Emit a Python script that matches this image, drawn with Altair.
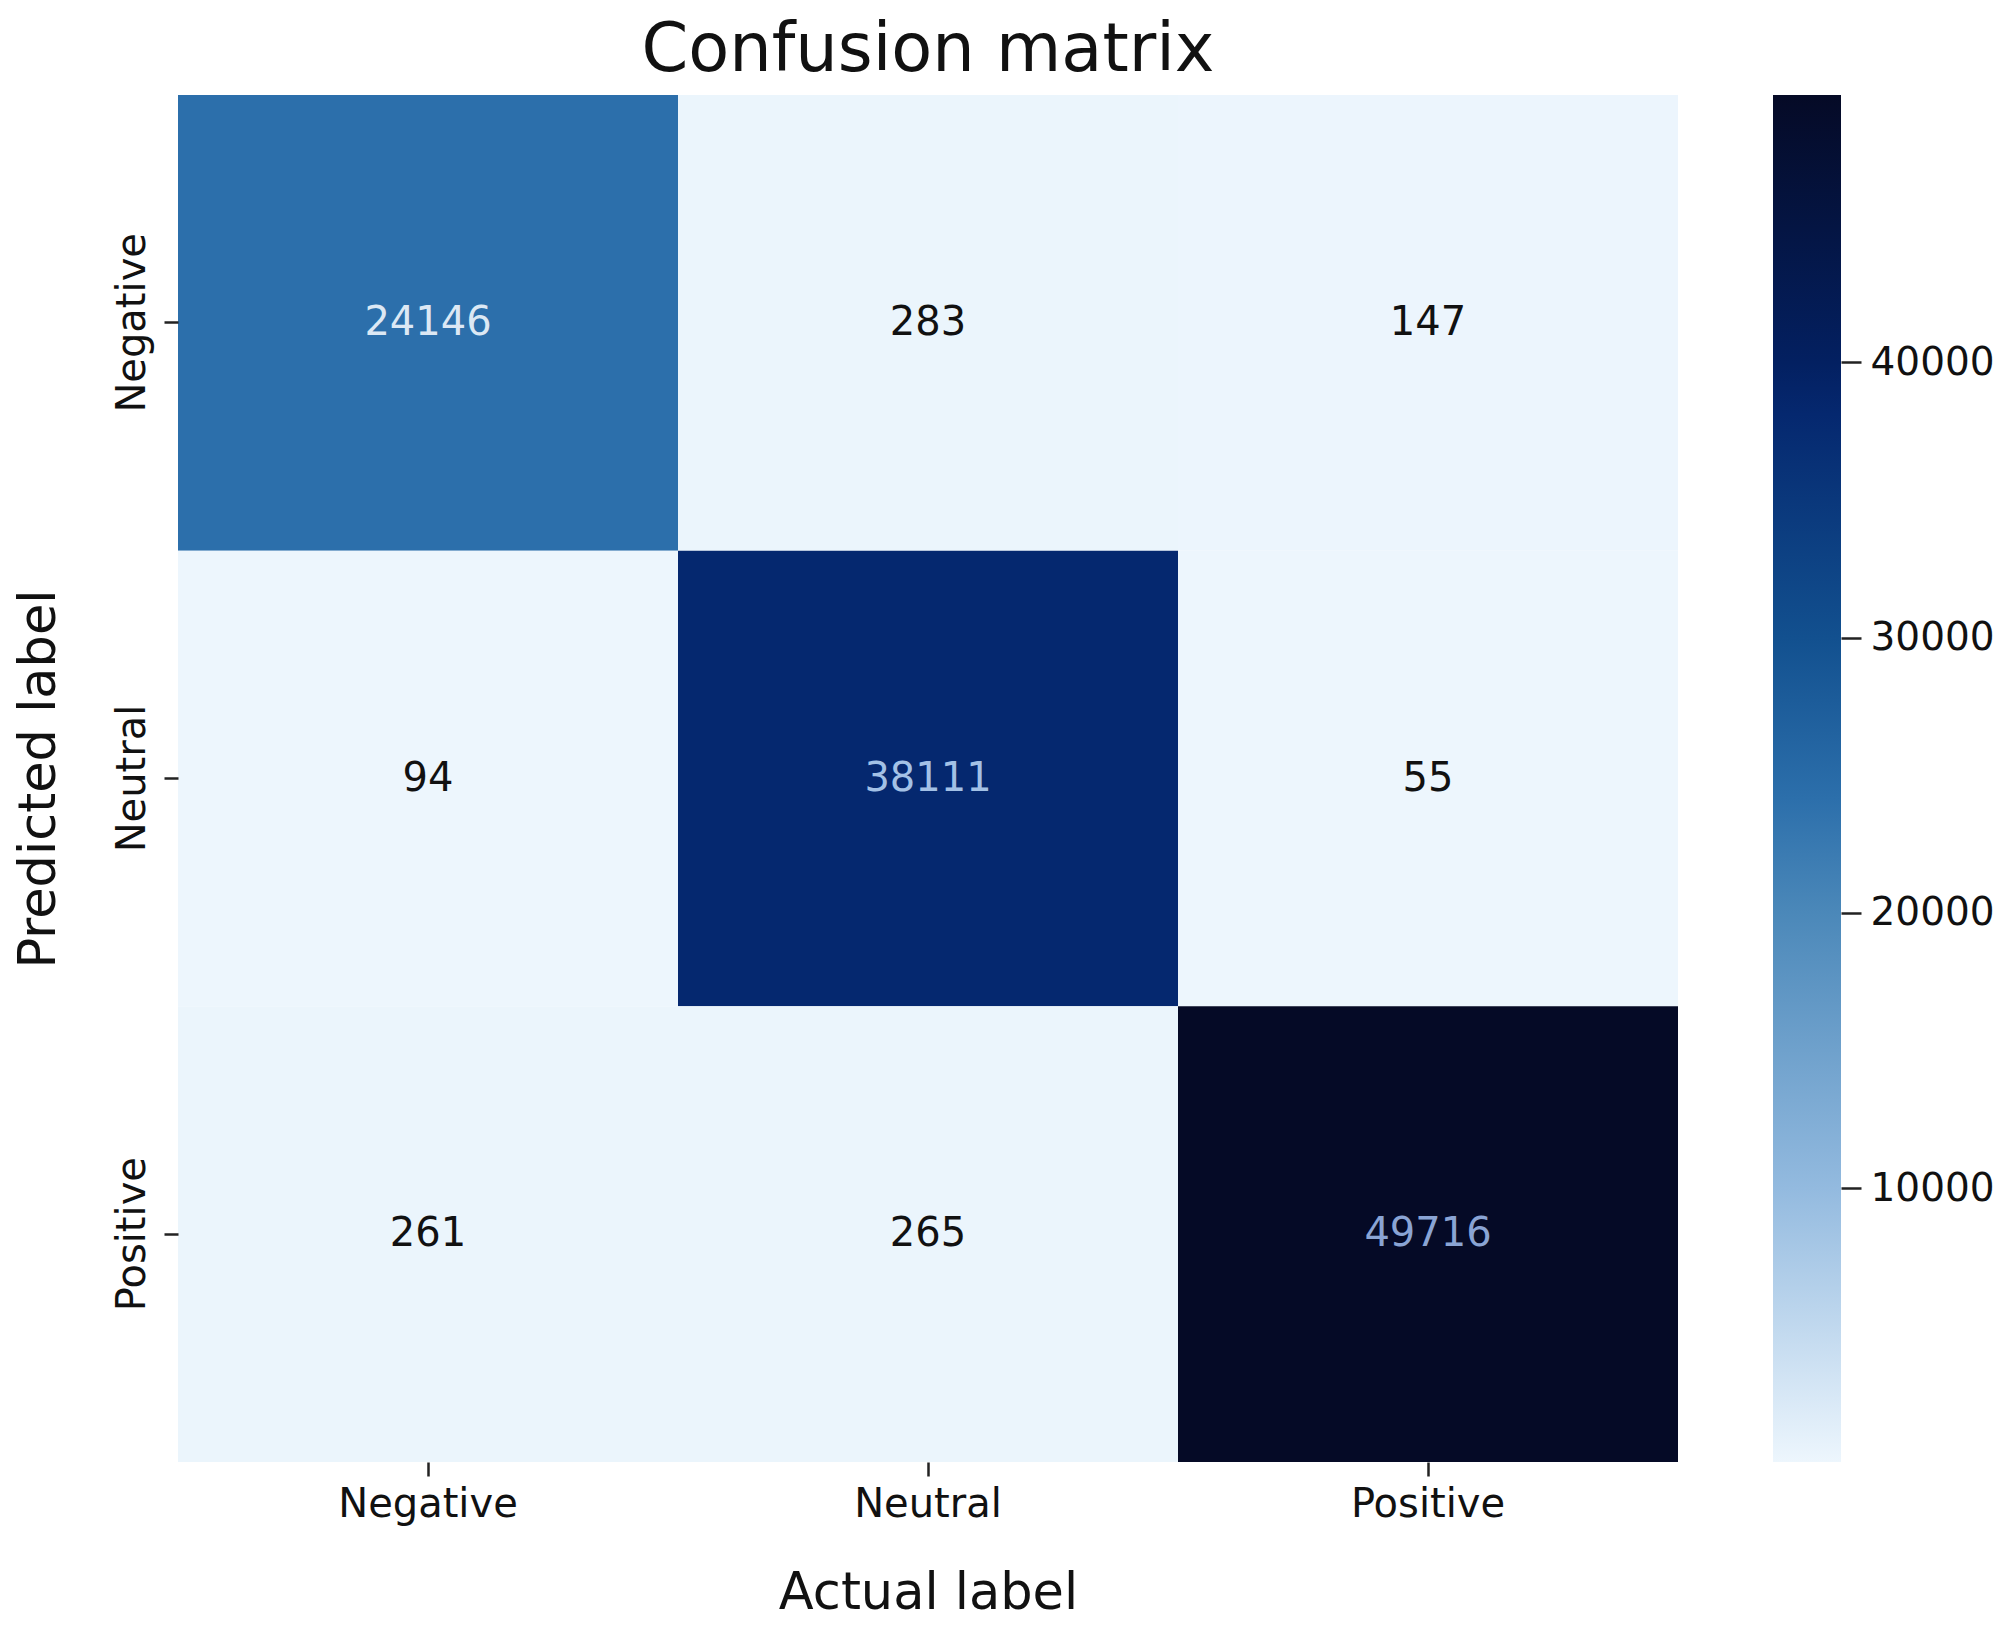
import altair as alt
import pandas as pd

# ---- data ----
classes = ["Negative", "Neutral", "Positive"]
predicted_rows = ["Negative", "Neutral", "Positive"]
row_negative = [24146, 283, 147]
row_neutral = [94, 38111, 55]
row_positive = [261, 265, 49716]

cbar_ticks = [10000, 20000, 30000, 40000]
color_anchor_values = [55, 10000, 20000, 24146, 30000, 38111, 40000, 49716]
color_anchor_colors = ["#edf6fd", "#93badf", "#4b88b9", "#2c6fab", "#12508f",
                       "#05286f", "#032061", "#050a26"]

rows = []
for pred, vals in zip(predicted_rows, [row_negative, row_neutral, row_positive]):
    for act, v in zip(classes, vals):
        rows.append({"Actual": act, "Predicted": pred, "value": v})
df = pd.DataFrame(rows)

vmin = min(color_anchor_values)
vmax = max(color_anchor_values)

FONT = "DejaVu Sans"

color_scale = alt.Scale(domain=color_anchor_values, range=color_anchor_colors,
                        interpolate="rgb")

base = alt.Chart(df)

heat = base.mark_rect(strokeWidth=0).encode(
    x=alt.X("Actual:N", sort=classes,
            scale=alt.Scale(paddingInner=0, paddingOuter=0),
            axis=alt.Axis(title="Actual label", labelAngle=0, labelFontSize=40,
                          titleFontSize=51, titleFontWeight="normal",
                          labelPadding=8, titlePadding=44, tickSize=14,
                          tickWidth=2.5, tickColor="#222", domain=False,
                          labelFont=FONT, titleFont=FONT, labelColor="#111",
                          titleColor="#111")),
    y=alt.Y("Predicted:N", sort=predicted_rows,
            scale=alt.Scale(paddingInner=0, paddingOuter=0),
            axis=alt.Axis(title="Predicted label", labelAngle=270,
                          labelAlign="center", labelBaseline="bottom",
                          labelFontSize=40, titleFontSize=51,
                          titleFontWeight="normal", labelPadding=12,
                          titlePadding=47, tickSize=14, tickWidth=2.5,
                          tickColor="#222", domain=False, labelFont=FONT,
                          titleFont=FONT, labelColor="#111", titleColor="#111")),
    color=alt.Color("value:Q", scale=color_scale, legend=None),
)

text = base.mark_text(fontSize=40, font=FONT).encode(
    x=alt.X("Actual:N", sort=classes),
    y=alt.Y("Predicted:N", sort=predicted_rows),
    text=alt.Text("value:Q", format="d"),
    color=alt.when(alt.datum.value > 45000).then(alt.value("#8aa4d4"))
    .when(alt.datum.value > 30000).then(alt.value("#a3c1e6"))
    .when(alt.datum.value > 20000).then(alt.value("#dce8f4"))
    .otherwise(alt.value("#111111")),
)

heatmap = (heat + text).properties(
    width=1500, height=1367,
    title=alt.TitleParams("Confusion matrix", fontSize=67, font=FONT,
                          fontWeight="normal", anchor="middle", offset=10,
                          color="#111"),
)

gradient = alt.LinearGradient(
    gradient="linear",
    stops=[alt.GradientStop(offset=(v - vmin) / (vmax - vmin), color=c)
           for v, c in zip(color_anchor_values, color_anchor_colors)],
    x1=0, x2=0, y1=1, y2=0,
)

cbar_df = pd.DataFrame({"lo": [vmin], "hi": [vmax]})
cbar = alt.Chart(cbar_df).mark_rect(color=gradient, strokeWidth=0).encode(
    y=alt.Y("lo:Q", scale=alt.Scale(domain=[vmin, vmax], nice=False, zero=False),
            axis=alt.Axis(orient="right", values=cbar_ticks, title=None,
                          labelFontSize=39, labelFont=FONT, labelColor="#111",
                          tickSize=20, tickWidth=2.5, tickColor="#222",
                          domain=False, grid=False, labelPadding=9,
                          format="d")),
    y2="hi:Q",
    x=alt.value(0),
    x2=alt.value(68),
).properties(width=68, height=1367)

chart = alt.hconcat(heatmap, cbar, spacing=95).properties(
    padding={"top": 9, "left": 5, "right": 5, "bottom": 5}
).configure_view(
    stroke=None
).configure_axis(grid=False)

chart.save("out.html", embed_options={"renderer": "svg", "actions": False})
